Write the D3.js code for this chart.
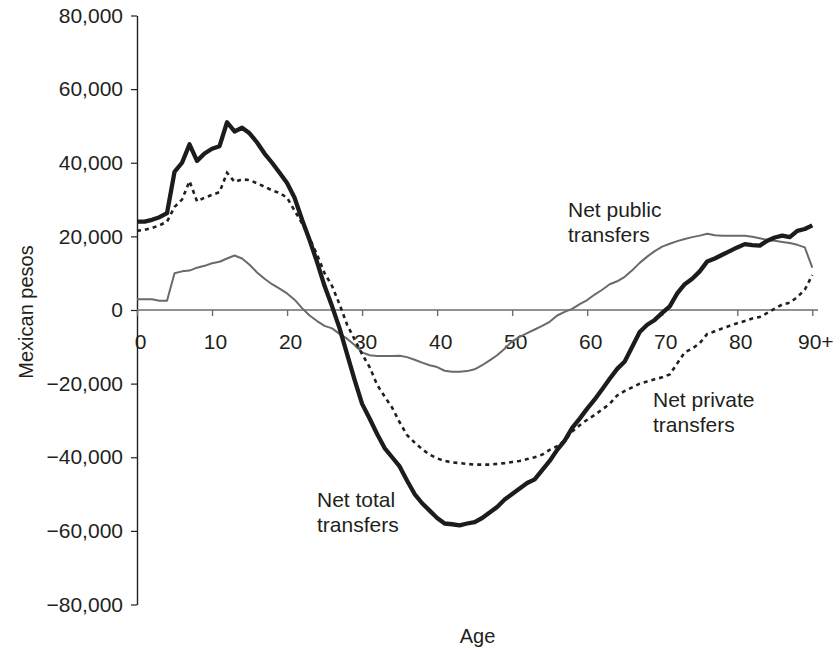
<!DOCTYPE html>
<html>
<head>
<meta charset="utf-8">
<script src="https://cdn.jsdelivr.net/npm/d3@7"></script>
<style>
  body { margin: 0; background: #fff; }
  text { font-family: "Liberation Sans", Arial, Helvetica, sans-serif; fill: #231f20; }
</style>
</head>
<body>
<div id="chart"></div>
<script>
// ages 0..90 (90 = "90+")
const ages = d3.range(0, 91);

const netTotal = [
  24000, 24000, 24500, 25200, 26300, 37500, 40000, 45000, 40500, 42500,
  43800, 44500, 51000, 48500, 49500, 48000, 45500, 42500, 40000, 37300,
  34500, 30500, 24500, 19000, 13000, 6500, 1000, -5000, -12000, -19000,
  -25500, -29500, -33700, -37500, -40000, -42500, -46400, -50000, -52500, -54500,
  -56500, -58000, -58200, -58500, -58000, -57600, -56500, -55000, -53500, -51500,
  -50000, -48500, -47000, -46000, -43500, -41000, -38000, -35500, -32000, -29500,
  -26800, -24300, -21500, -18700, -16000, -14000, -10000, -6000, -4000, -2700,
  -800, 1000, 4500, 7000, 8500, 10500, 13200, 14000, 15000, 16000,
  17000, 17900, 17600, 17500, 18800, 19700, 20200, 19800, 21500, 22000,
  23000
];

const netPrivate = [
  21500, 21800, 22300, 23000, 24000, 28000, 30000, 35000, 29500, 30500,
  31300, 32000, 37300, 34800, 35500, 35300, 34400, 33500, 32500, 31800,
  30500, 27000, 23500, 19500, 15000, 10000, 6500, 1500, -4000, -8000,
  -12000, -15500, -20300, -23500, -26500, -30500, -34000, -36000, -37800, -39300,
  -40300, -41000, -41400, -41600, -41800, -42000, -42000, -42000, -41800, -41600,
  -41300, -41000, -40500, -40000, -39300, -38000, -37000, -35500, -33000, -31300,
  -29800, -28500, -27000, -25500, -23200, -22000, -21000, -20000, -19400, -18800,
  -18300, -17500, -14500, -11500, -10500, -9000, -6500, -5800, -5000, -4300,
  -3600, -3000, -2300, -1900, -800, 400, 1500, 2000, 3500, 5500,
  9500
];

const netPublic = [
  2900, 2900, 2900, 2500, 2500, 10000, 10500, 10700, 11500, 12000,
  12700, 13100, 14000, 14800, 14000, 12300, 10200, 8500, 7000, 5800,
  4500, 2800, 500, -1500, -3000, -4300, -5000, -6500, -7800, -9500,
  -11500, -12300, -12500, -12500, -12500, -12400, -12800, -13500, -14300, -15000,
  -15500, -16500, -16800, -16800, -16600, -16100, -15000, -13700, -12300, -10500,
  -8500, -7300, -6300, -5300, -4300, -3200, -1500, -500, 300, 1600,
  2700, 4200, 5500, 7000, 7800, 9000, 10800, 12800, 14500, 16000,
  17200, 18000, 18700, 19300, 19800, 20200, 20700, 20300, 20200, 20200,
  20200, 20200, 19900, 19500, 19000, 18800, 18500, 18200, 17700, 17000,
  11500
];

const yTicks = [-80000, -60000, -40000, -20000, 0, 20000, 40000, 60000, 80000];
const xTicks = [0, 10, 20, 30, 40, 50, 60, 70, 80, 90];
const xTickLabels = ["0", "10", "20", "30", "40", "50", "60", "70", "80", "90+"];

const width = 837, height = 651;

const svg = d3.select("#chart")
  .append("svg")
  .attr("width", width)
  .attr("height", height);

const x = d3.scaleLinear().domain([0, 90]).range([137, 812.3]);
const y = d3.scaleLinear().domain([-80000, 80000]).range([604.5, 15.5]);

// y axis
const yAxis = d3.axisLeft(y)
  .tickValues(yTicks)
  .tickSize(6)
  .tickSizeOuter(0)
  .tickPadding(8)
  .tickFormat(d3.format(","));

const gy = svg.append("g")
  .attr("transform", "translate(137,0)")
  .call(yAxis);
gy.select(".domain").attr("stroke", "#231f20").attr("stroke-width", 1.4);
gy.selectAll(".tick line").attr("stroke", "#231f20").attr("stroke-width", 1.2);
gy.selectAll(".tick text").style("font-size", "21px").attr("fill", "#231f20");

// zero line acting as x axis
svg.append("line")
  .attr("x1", x(0))
  .attr("x2", 818)
  .attr("y1", y(0))
  .attr("y2", y(0))
  .attr("stroke", "#6d6d6d")
  .attr("stroke-width", 1.6);

const xAxis = d3.axisBottom(x)
  .tickValues(xTicks)
  .tickSize(6)
  .tickSizeOuter(0)
  .tickPadding(18)
  .tickFormat((d, i) => xTickLabels[i]);

const gx = svg.append("g")
  .attr("transform", `translate(0,${y(0)})`)
  .call(xAxis);
gx.select(".domain").remove();
gx.selectAll(".tick line").attr("stroke", "#6d6d6d").attr("stroke-width", 1.4);
gx.selectAll(".tick text")
  .style("font-size", "21px")
  .attr("fill", "#231f20")
  .attr("dx", 3);

// lines
const line = d3.line()
  .x((d, i) => x(ages[i]))
  .y(d => y(d));

svg.append("path")
  .datum(netPublic)
  .attr("fill", "none")
  .attr("stroke", "#6a6a6a")
  .attr("stroke-width", 2)
  .attr("stroke-linejoin", "round")
  .attr("d", line);

svg.append("path")
  .datum(netPrivate)
  .attr("fill", "none")
  .attr("stroke", "#231f20")
  .attr("stroke-width", 2.6)
  .attr("stroke-dasharray", "4,4")
  .attr("d", line);

svg.append("path")
  .datum(netTotal)
  .attr("fill", "none")
  .attr("stroke", "#1c1c1c")
  .attr("stroke-width", 4.3)
  .attr("stroke-linejoin", "round")
  .attr("d", line);

// annotations
const notes = [
  { lines: ["Net public", "transfers"], x: 568, y: 217 },
  { lines: ["Net private", "transfers"], x: 653, y: 407 },
  { lines: ["Net total", "transfers"], x: 317, y: 507 }
];

notes.forEach(n => {
  const t = svg.append("text")
    .attr("x", n.x)
    .attr("y", n.y)
    .style("font-size", "21px");
  n.lines.forEach((s, i) => {
    t.append("tspan")
      .attr("x", n.x)
      .attr("dy", i === 0 ? 0 : 25)
      .text(s);
  });
});

// axis titles
svg.append("text")
  .attr("transform", "translate(33,312) rotate(-90)")
  .attr("text-anchor", "middle")
  .style("font-size", "20px")
  .text("Mexican pesos");

svg.append("text")
  .attr("x", 477.5)
  .attr("y", 643)
  .attr("text-anchor", "middle")
  .style("font-size", "20px")
  .text("Age");
</script>
</body>
</html>
